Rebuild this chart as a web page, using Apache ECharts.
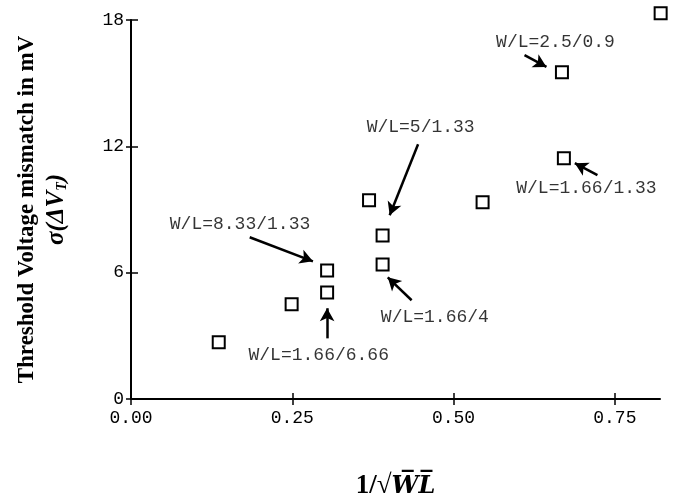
<!DOCTYPE html>
<html>
<head>
<meta charset="utf-8">
<script src="https://cdn.jsdelivr.net/npm/echarts@6/dist/echarts.min.js"></script>
<style>html,body{margin:0;padding:0;background:#fff}#c{width:681px;height:504px}</style>
</head>
<body>
<div id="c"></div>
<script>
// data: 1/sqrt(WL) vs sigma(dVT) in mV
const invSqrtWL = [0.136, 0.249, 0.304, 0.304, 0.369, 0.390, 0.390, 0.545, 0.668, 0.671, 0.821];
const sigmaVT   = [2.69, 4.50, 6.10, 5.06, 9.44, 7.77, 6.39, 9.34, 15.52, 11.43, 18.32];

const xTicks = [0, 0.25, 0.5, 0.75];
const yTicks = [0, 6, 12, 18];

// annotations: label text, label position, arrow start, arrow end (data coords)
const annoText = ['W/L=8.33/1.33', 'W/L=5/1.33', 'W/L=2.5/0.9', 'W/L=1.66/1.33', 'W/L=1.66/4', 'W/L=1.66/6.66'];
const annoPos  = [[0.169, 8.30], [0.449, 12.9], [0.658, 16.94], [0.706, 10.0], [0.471, 3.88], [0.291, 2.07]];
const arrowFrom = [[0.184, 7.68], [0.445, 12.1], [0.610, 16.33], [0.723, 10.63], [0.435, 4.69], [0.304, 2.88]];
const arrowTo   = [[0.282, 6.54], [0.401, 8.73], [0.644, 15.77], [0.688, 11.20], [0.398, 5.78], [0.304, 4.31]];

const mono = 'Liberation Mono';
const serif = 'Liberation Serif';

const chart = echarts.init(document.getElementById('c'));
const axisLine = {show: true, lineStyle: {color: '#000', width: 2}};
chart.setOption({
  animation: false,
  backgroundColor: '#fff',
  grid: {left: 131, right: 21, top: 20, bottom: 105, containLabel: false, outerBoundsMode: 'none'},
  xAxis: [{
    type: 'value', min: 0, max: 0.82, position: 'bottom',
    splitLine: {show: false},
    axisLine: axisLine,
    axisTick: {show: true, inside: false, length: 6, lineStyle: {color: '#000', width: 1.5}, customValues: xTicks},
    axisLabel: {show: true, color: '#000', fontFamily: mono, fontSize: 18, margin: 10,
      customValues: xTicks, formatter: v => v.toFixed(2)},
    name: '{b|1/√}{i|W̅L̅}',
    nameLocation: 'middle', nameGap: 74,
    nameTextStyle: {rich: {
      b: {fontFamily: serif, fontWeight: 'bold', fontSize: 27, color: '#000'},
      i: {fontFamily: 'DejaVu Serif', fontWeight: 'bold', fontStyle: 'italic', fontSize: 24, color: '#000'}
    }}
  }, {
    type: 'value', min: 0, max: 0.82, position: 'bottom',
    splitLine: {show: false}, axisLine: {show: false},
    axisTick: {show: true, inside: true, length: 6, lineStyle: {color: '#000', width: 1.5}, customValues: xTicks},
    axisLabel: {show: false}
  }],
  yAxis: [{
    type: 'value', min: 0, max: 18, interval: 6, position: 'left',
    splitLine: {show: false},
    axisLine: axisLine,
    axisTick: {show: true, inside: false, length: 5, lineStyle: {color: '#000', width: 1.5}},
    axisLabel: {show: true, color: '#000', fontFamily: mono, fontSize: 18, margin: 7},
    name: '{b|Threshold Voltage mismatch in mV}\n{i|σ(ΔV}{s|T}{i|)}',
    nameLocation: 'middle', nameRotate: 90, nameGap: 60,
    nameTextStyle: {align: 'center', rich: {
      b: {fontFamily: serif, fontWeight: 'bold', fontSize: 23, color: '#000', lineHeight: 29},
      i: {fontFamily: serif, fontStyle: 'italic', fontWeight: 'bold', fontSize: 25, color: '#000', lineHeight: 29},
      s: {fontFamily: serif, fontStyle: 'italic', fontWeight: 'bold', fontSize: 14, color: '#000', lineHeight: 29, padding: [12, 0, 0, 0]}
    }}
  }, {
    type: 'value', min: 0, max: 18, interval: 6, position: 'left',
    splitLine: {show: false}, axisLine: {show: false},
    axisTick: {show: true, inside: true, length: 7, lineStyle: {color: '#000', width: 1.5}},
    axisLabel: {show: false}
  }],
  series: [{
    type: 'scatter',
    clip: false,
    symbol: 'rect',
    symbolSize: 12,
    itemStyle: {color: '#fff', borderColor: '#000', borderWidth: 2, opacity: 1},
    data: invSqrtWL.map((x, i) => [x, sigmaVT[i]]),
    markLine: {
      silent: true,
      animation: false,
      symbol: ['none', 'arrow'],
      symbolSize: [11, 13],
      label: {show: false},
      lineStyle: {color: '#000', width: 2.5, type: 'solid'},
      data: arrowFrom.map((p, i) => [{coord: p}, {coord: arrowTo[i]}])
    }
  }, {
    type: 'scatter',
    clip: false,
    symbol: 'circle',
    symbolSize: 1,
    silent: true,
    itemStyle: {color: 'rgba(0,0,0,0)'},
    data: annoPos.map((p, i) => [p[0], p[1], annoText[i]]),
    label: {show: true, position: 'inside', color: '#000', fontFamily: mono, fontSize: 18,
      formatter: p => p.data[2]}
  }]
});
</script>
</body>
</html>
